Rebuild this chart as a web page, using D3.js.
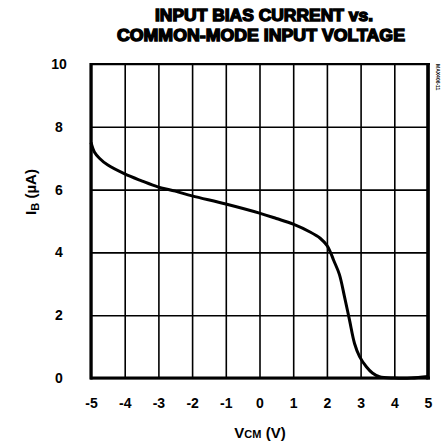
<!DOCTYPE html>
<html>
<head>
<meta charset="utf-8">
<script src="https://d3js.org/d3.v7.min.js"></script>
<style>
  body { margin: 0; background: #fff; }
  svg { display: block; }
  .tick text { font: bold 14px "Liberation Sans", Arial, sans-serif; fill: #000; }
  .grid line { stroke: #000; stroke-width: 1.6; }
  .grid path { display: none; }
  .title { font: bold 17px "Liberation Sans", Arial, sans-serif; fill: #000; stroke: #000; stroke-width: 1.4; }
  .label { font: bold 15px "Liberation Sans", Arial, sans-serif; fill: #000; }
</style>
</head>
<body>
<div id="chart"></div>
<script>
// curve
var vcm = [-5, -4.9, -4.75, -4.5, -4, -3.5, -3, -2.5, -2, -1, 0, 0.5, 1, 1.5, 1.8, 2, 2.1, 2.2, 2.37, 2.52, 2.67, 2.82, 2.97, 3.17, 3.35, 3.56, 4, 4.5, 5];
var ib  = [7.5, 7.2, 7.0, 6.78, 6.5, 6.28, 6.08, 5.95, 5.8, 5.54, 5.25, 5.08, 4.9, 4.65, 4.45, 4.22, 4.02, 3.75, 3.3, 2.6, 1.85, 1.1, 0.68, 0.36, 0.16, 0.04, 0.0, 0.0, 0.05];
var xTicks = [-5, -4, -3, -2, -1, 0, 1, 2, 3, 4, 5];
var yTicks = [0, 2, 4, 6, 8, 10];

var W = 442, H = 445;
var pL = 91, pR = 428, pT = 64, pB = 378;
var plain = function(d) { return String(d); };

var svg = d3.select("#chart").append("svg")
    .attr("width", W).attr("height", H);

var x = d3.scaleLinear().domain([-5, 5]).range([pL, pR]);
var y = d3.scaleLinear().domain([0, 10]).range([pB, pT]);

// vertical grid lines
svg.append("g")
    .attr("class", "grid")
    .attr("transform", "translate(0," + pB + ")")
    .call(d3.axisBottom(x).tickValues(xTicks).tickSize(-(pB - pT)).tickFormat(""));

// horizontal grid lines
svg.append("g")
    .attr("class", "grid")
    .attr("transform", "translate(" + pL + ",0)")
    .call(d3.axisLeft(y).tickValues(yTicks).tickSize(-(pR - pL)).tickFormat(""));

// tick labels
var xa = svg.append("g")
    .attr("transform", "translate(0," + pB + ")")
    .call(d3.axisBottom(x).tickValues(xTicks).tickSize(0).tickPadding(20).tickFormat(plain));
xa.select(".domain").remove();

var ya = svg.append("g")
    .attr("transform", "translate(59,0)")
    .call(d3.axisLeft(y).tickValues(yTicks).tickSize(0).tickPadding(0).tickFormat(plain));
ya.select(".domain").remove();
ya.selectAll("text").attr("text-anchor", "middle").attr("x", 0);

// frame
svg.append("line").attr("x1", pL - 1).attr("x2", pR + 2).attr("y1", pT).attr("y2", pT)
    .attr("stroke", "#000").attr("stroke-width", 2.2);
svg.append("line").attr("x1", pL - 1).attr("x2", pR + 2).attr("y1", pB).attr("y2", pB)
    .attr("stroke", "#000").attr("stroke-width", 3.2);
svg.append("line").attr("x1", pL).attr("x2", pL).attr("y1", pT - 1).attr("y2", pB + 1.5)
    .attr("stroke", "#000").attr("stroke-width", 3.2);
svg.append("line").attr("x1", pR).attr("x2", pR).attr("y1", pT - 1).attr("y2", pB + 1.5)
    .attr("stroke", "#000").attr("stroke-width", 3.6);

// the curve
var pts = vcm.map(function(v, i) { return [v, ib[i]]; });
svg.append("path")
    .datum(pts)
    .attr("fill", "none")
    .attr("stroke", "#000")
    .attr("stroke-width", 3)
    .attr("d", d3.line()
        .x(function(d) { return x(d[0]); })
        .y(function(d) { return y(d[1]); })
        .curve(d3.curveCatmullRom.alpha(0.5)));

// titles
svg.append("text").attr("class", "title")
    .attr("x", 264).attr("y", 21).attr("text-anchor", "middle")
    .attr("textLength", 218).attr("lengthAdjust", "spacingAndGlyphs")
    .text("INPUT BIAS CURRENT vs.");
svg.append("text").attr("class", "title")
    .attr("x", 261).attr("y", 41).attr("text-anchor", "middle")
    .attr("textLength", 288).attr("lengthAdjust", "spacingAndGlyphs")
    .text("COMMON-MODE INPUT VOLTAGE");

// axis titles
var xt = svg.append("text").attr("class", "label")
    .attr("x", 260).attr("y", 438).attr("text-anchor", "middle");
xt.append("tspan").text("V");
xt.append("tspan").attr("font-size", "11px").text("CM");
xt.append("tspan").text(" (V)");

var yt = svg.append("text").attr("class", "label")
    .attr("transform", "translate(36,192) rotate(-90)").attr("text-anchor", "middle");
yt.append("tspan").text("I");
yt.append("tspan").attr("font-size", "11px").attr("dy", 3).text("B");
yt.append("tspan").attr("dy", -3).text(" (\u00b5A)");

// small side code
svg.append("text")
    .attr("transform", "translate(436,64) rotate(90)")
    .attr("font-family", "Liberation Sans, Arial, sans-serif")
    .attr("font-size", 5).attr("font-weight", "bold")
    .text("MAX406-11");
</script>
</body>
</html>
